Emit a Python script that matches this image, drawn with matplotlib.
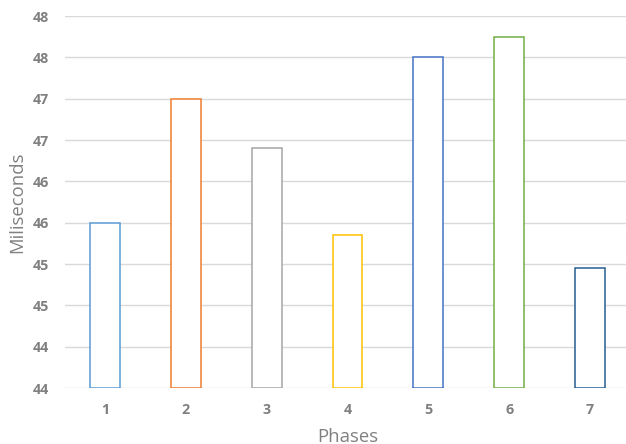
import numpy as np
import matplotlib
matplotlib.use('Agg')
import matplotlib.pyplot as plt

# Phase timings
phases = ['1', '2', '3', '4', '5', '6', '7']
ms_values = [45.5, 47.0, 46.4, 45.35, 47.5, 47.75, 44.95]
bar_colors = ['#5B9BD5', '#ED7D31', '#A5A5A5', '#FFC000', '#4472C4', '#70AD47', '#255E91']

# y axis: 0.5 steps but labels are rounded to whole numbers
y_ticks = [43.5, 44.0, 44.5, 45.0, 45.5, 46.0, 46.5, 47.0, 47.5, 48.0]
y_labels = ['44', '44', '45', '45', '46', '46', '47', '47', '48', '48']

plt.rcParams['font.family'] = ['Open Sans', 'DejaVu Sans']
text_grey = '#808080'

fig = plt.figure(figsize=(6.26, 4.44), dpi=100)
ax = fig.add_axes([64.6 / 626, 56 / 444, 565.8 / 626, 372 / 444])

x = np.arange(1, len(phases) + 1)
ymin = y_ticks[0]
heights = [v - ymin for v in ms_values]
ax.bar(x, heights, bottom=ymin, width=0.37, facecolor='white',
       edgecolor=bar_colors, linewidth=1.1, zorder=3)

ax.set_xlim(0.5, len(phases) + 0.5)
ax.set_ylim(ymin, y_ticks[-1])
ax.set_xticks(x)
ax.set_xticklabels(phases)
ax.set_yticks(y_ticks)
ax.set_yticklabels(y_labels)

ax.grid(axis='y', color='#D9D9D9', linewidth=1.0, zorder=0)
ax.set_axisbelow(True)
for s in ax.spines.values():
    s.set_visible(False)

ax.tick_params(axis='both', length=0, labelcolor=text_grey, labelsize=10.3)
ax.tick_params(axis='y', pad=11)
ax.tick_params(axis='x', pad=11)
for lbl in ax.get_xticklabels() + ax.get_yticklabels():
    lbl.set_fontweight('bold')

ax.set_xlabel('Phases', fontsize=13.3, color=text_grey, labelpad=8)
ax.set_ylabel('Miliseconds', fontsize=13.3, color=text_grey, labelpad=5)

fig.savefig('out.png', dpi=100)
